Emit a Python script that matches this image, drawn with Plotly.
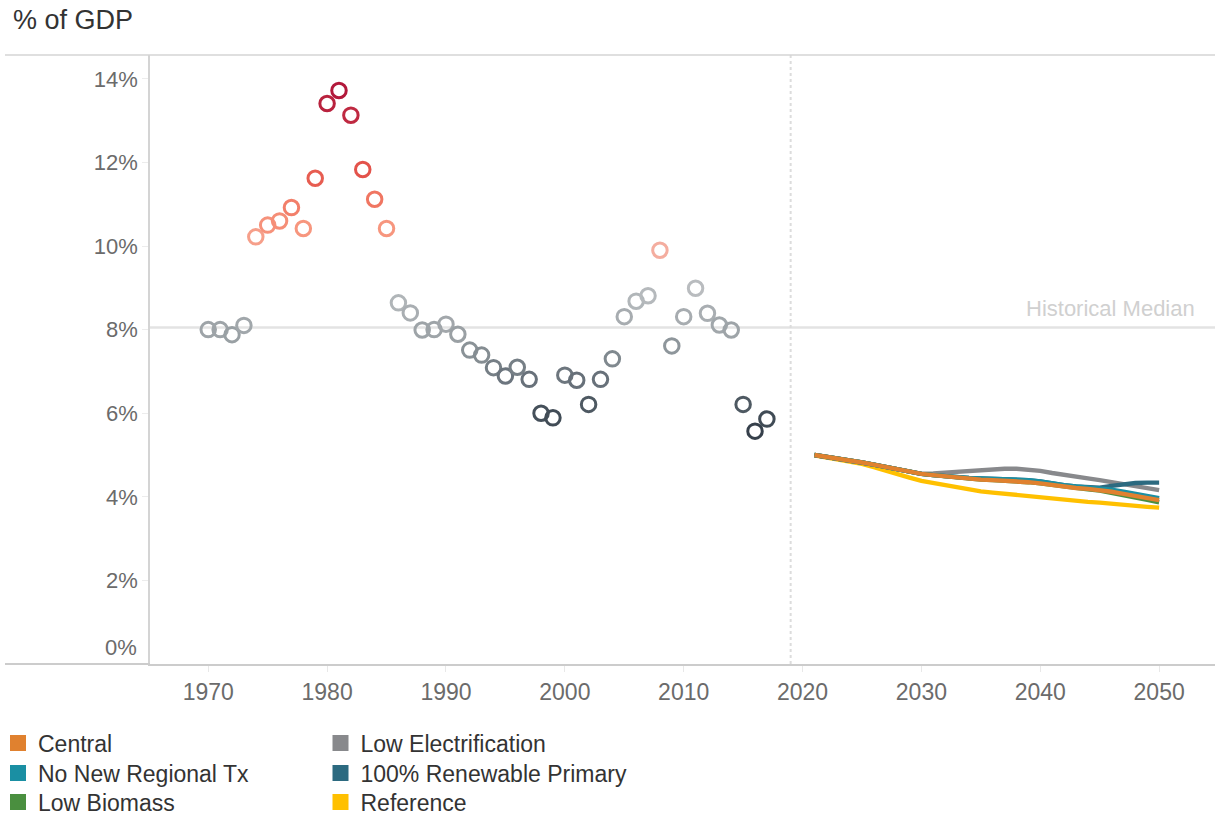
import numpy as np
import plotly.graph_objects as go

# ---- historical spending share (% of GDP) ----
hist_years = list(range(1970, 2018))
hist_values = [
    8.00, 8.00, 7.88, 8.10, 10.22, 10.50, 10.60, 10.92, 10.42, 11.62,
    13.41, 13.72, 13.13, 11.83, 11.12, 10.42, 8.64, 8.40, 7.99, 8.00,
    8.13, 7.89, 7.51, 7.39, 7.09, 6.89, 7.10, 6.81, 6.00, 5.89,
    6.91, 6.79, 6.21, 6.81, 7.30, 8.31, 8.68, 8.81, 9.90, 7.61,
    8.31, 8.99, 8.39, 8.11, 7.99, 6.21, 5.57, 5.86,
]

# ---- projected scenarios ----
proj_years = list(range(2021, 2051))
central = [
    5.00, 4.96, 4.92, 4.87, 4.82, 4.77, 4.71, 4.65, 4.60, 4.55,
    4.52, 4.49, 4.46, 4.43, 4.41, 4.40, 4.39, 4.38, 4.35, 4.32,
    4.28, 4.24, 4.21, 4.19, 4.16, 4.12, 4.07, 4.02, 3.97, 3.92,
]
no_new_regional_tx = [
    5.00, 4.96, 4.92, 4.87, 4.82, 4.77, 4.71, 4.65, 4.60, 4.55,
    4.52, 4.49, 4.47, 4.45, 4.44, 4.43, 4.42, 4.42, 4.40, 4.37,
    4.32, 4.28, 4.25, 4.23, 4.21, 4.17, 4.12, 4.07, 4.02, 3.97,
]
low_biomass = [
    5.00, 4.96, 4.92, 4.87, 4.82, 4.77, 4.71, 4.65, 4.60, 4.55,
    4.52, 4.49, 4.46, 4.43, 4.41, 4.40, 4.39, 4.38, 4.35, 4.32,
    4.28, 4.24, 4.21, 4.18, 4.15, 4.10, 4.05, 3.99, 3.93, 3.87,
]
low_electrification = [
    5.00, 4.96, 4.92, 4.87, 4.82, 4.77, 4.71, 4.65, 4.60, 4.55,
    4.56, 4.58, 4.60, 4.63, 4.65, 4.66, 4.67, 4.67, 4.65, 4.62,
    4.57, 4.52, 4.48, 4.44, 4.40, 4.35, 4.30, 4.25, 4.20, 4.16,
]
renewable_primary = [
    5.00, 4.96, 4.92, 4.87, 4.82, 4.77, 4.71, 4.65, 4.60, 4.55,
    4.52, 4.49, 4.47, 4.45, 4.44, 4.43, 4.42, 4.42, 4.40, 4.37,
    4.32, 4.28, 4.25, 4.23, 4.22, 4.26, 4.30, 4.33, 4.34, 4.34,
]
reference = [
    4.99, 4.94, 4.89, 4.84, 4.79, 4.71, 4.62, 4.53, 4.46, 4.38,
    4.33, 4.28, 4.22, 4.17, 4.13, 4.10, 4.07, 4.04, 4.02, 3.99,
    3.95, 3.92, 3.90, 3.88, 3.86, 3.83, 3.80, 3.78, 3.76, 3.74,
]

y_tick_values = [2, 4, 6, 8, 10, 12, 14]
y_tick_labels = ["2%", "4%", "6%", "8%", "10%", "12%", "14%"]
x_tick_values = list(range(1970, 2051, 10))
projection_start_marker = 2019

historical_median = float(np.median(hist_values))

# scenario name, values, colour
scenarios = [
    ("Central", central, "#e0812f"),
    ("No New Regional Tx", no_new_regional_tx, "#1a8fa3"),
    ("Low Biomass", low_biomass, "#4a8f3f"),
    ("Low Electrification", low_electrification, "#88898c"),
    ("100% Renewable Primary", renewable_primary, "#2c6a80"),
    ("Reference", reference, "#ffc000"),
]
draw_order = ["Reference", "Low Electrification", "100% Renewable Primary",
              "Low Biomass", "No New Regional Tx", "Central"]

TEXT_FONT = "Liberation Sans, Arial, sans-serif"
TICK_FONT = "Liberation Sans, Arial, sans-serif"

W, H = 1215, 818
PLOT_L, PLOT_T, PLOT_W, PLOT_H = 150, 55, 1065, 609

# diverging scale: dark slate (low) -> light grey (around median) -> crimson (high)
point_scale = [
    [0.00, "#333d49"],
    [0.06, "#45505a"],
    [0.157, "#68717a"],
    [0.241, "#8a9297"],
    [0.301, "#9ea4a8"],
    [0.398, "#b5b9bc"],
    [0.422, "#b9bcbf"],
    [0.530, "#f4ad9f"],
    [0.590, "#f7977f"],
    [0.675, "#f07763"],
    [0.759, "#e4544b"],
    [0.916, "#c02a41"],
    [1.00, "#b0173a"],
]

fig = go.Figure()

fig.add_trace(go.Scatter(
    x=hist_years, y=hist_values, mode="markers", showlegend=False,
    hoverinfo="skip",
    marker=dict(
        symbol="circle-open", size=14.5,
        color=hist_values, colorscale=point_scale, cmin=5.5, cmax=13.8,
        line=dict(width=3),
    ),
))

by_name = {s[0]: s for s in scenarios}
for name in draw_order:
    _, vals, col = by_name[name]
    fig.add_trace(go.Scatter(
        x=proj_years, y=vals, mode="lines", name=name, showlegend=False,
        line=dict(color=col, width=4.4), hoverinfo="skip",
    ))

# legend keys: two columns of three, one legend box per entry
legend_ids = ["legend", "legend2", "legend3", "legend4", "legend5", "legend6"]
legend_left_px = [-2, -2, -2, 320.5, 320.5, 320.5]
legend_row_center_px = [743, 773, 802, 743, 773, 802]
legend_layout = {}
for (name, _, col), lid, lx, ly in zip(scenarios, legend_ids,
                                      legend_left_px, legend_row_center_px):
    fig.add_trace(go.Scatter(
        x=[None], y=[None], mode="markers", name=name, legend=lid,
        marker=dict(symbol="square", size=17, color=col),
    ))
    legend_layout[lid] = dict(
        orientation="v", xref="paper", yref="container",
        x=(lx - PLOT_L) / PLOT_W, xanchor="left",
        y=1 - ly / H, yanchor="middle",
        font=dict(family=TEXT_FONT, size=23, color="#333333"),
        bgcolor="rgba(0,0,0,0)", borderwidth=0,
        itemclick=False, itemdoubleclick=False,
    )

fig.add_hline(y=historical_median, line=dict(color="#e3e3e3", width=2.5), layer="below")
fig.add_vline(x=projection_start_marker, line=dict(color="#dcdcdc", width=2, dash="dot"), layer="below")

fig.add_annotation(
    x=1, xref="paper", xanchor="right", xshift=-18,
    y=historical_median, yref="y", yanchor="bottom", yshift=5,
    text="Historical Median", showarrow=False,
    font=dict(family=TEXT_FONT, size=22, color="#d0d0d0"),
)
# bottom tick label sits just above the axis line
fig.add_annotation(
    x=0, xref="paper", xanchor="right", xshift=-11,
    y=0, yref="y", yanchor="bottom", yshift=2,
    text="0%", showarrow=False,
    font=dict(family=TICK_FONT, size=22, color="#6b6b6b"),
)
fig.add_annotation(
    x=(11 - PLOT_L) / PLOT_W, xref="paper", xanchor="left",
    y=1 + (PLOT_T - 20) / PLOT_H, yref="paper", yanchor="middle",
    text="% of GDP", showarrow=False,
    font=dict(family=TEXT_FONT, size=27, color="#333333"),
)

# frame lines extending across the full width
fig.add_shape(type="line", xref="paper", yref="paper",
              x0=(5 - PLOT_L) / PLOT_W, x1=1, y0=1, y1=1,
              line=dict(color="#d4d4d4", width=1.5))
fig.add_shape(type="line", xref="paper", yref="paper",
              x0=(5 - PLOT_L) / PLOT_W, x1=0, y0=0, y1=0,
              line=dict(color="#cccccc", width=2))

fig.update_layout(
    width=W, height=H,
    margin=dict(l=PLOT_L, r=W - PLOT_L - PLOT_W, t=PLOT_T,
                b=H - PLOT_T - PLOT_H, autoexpand=False),
    paper_bgcolor="white", plot_bgcolor="white",
    font=dict(family=TEXT_FONT, color="#333333"),
    xaxis=dict(
        range=[1965.1, 2054.7], tickvals=x_tick_values,
        showgrid=False, zeroline=False,
        showline=True, linecolor="#cccccc", linewidth=2,
        ticks="outside", ticklen=6, tickcolor="#e8e8e8", tickwidth=1,
        tickfont=dict(family=TICK_FONT, size=23, color="#6b6b6b"),
    ),
    yaxis=dict(
        range=[0, 14.57], tickvals=y_tick_values, ticktext=y_tick_labels,
        showgrid=False, zeroline=False,
        showline=True, linecolor="#d4d4d4", linewidth=1.5,
        ticks="outside", ticklen=6, tickcolor="#ececec", tickwidth=1,
        tickfont=dict(family=TICK_FONT, size=22, color="#6b6b6b"),
    ),
    **legend_layout,
)

fig.write_html("out.html")
